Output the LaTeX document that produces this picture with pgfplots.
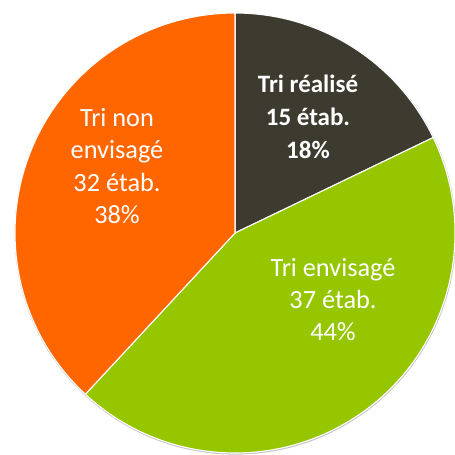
\documentclass[border=0pt]{standalone}
\usepackage{pgfplots}
\pgfplotsset{compat=1.18}
\usepackage{fontspec}
\setmainfont{Carlito}
\definecolor{cdark}{HTML}{3D3B30}
\definecolor{cgreen}{HTML}{95C600}
\definecolor{corange}{HTML}{FF6600}
\begin{document}
\begin{tikzpicture}
\begin{axis}[x=1pt,y=1pt,xmin=0,xmax=455,ymin=0,ymax=455,hide axis,clip=false,
  scale only axis]
% values: Tri realise 15, Tri envisage 37, Tri non envisage 32 (total 84)
\pgfmathsetmacro{\tot}{15+37+32}
\pgfmathsetmacro{\aA}{90}
\pgfmathsetmacro{\aB}{90-360*15/\tot}
\pgfmathsetmacro{\aC}{\aB-360*37/\tot}
\pgfmathsetmacro{\aD}{\aC-360*32/\tot}
\fill[gray!45] (axis cs:235.3,221.2) circle[radius=220.8pt];
\filldraw[fill=cdark,draw=white,line width=1.1pt] (axis cs:235,222) -- ++(\aA:220pt) arc[start angle=\aA,end angle=\aB,radius=220pt] -- cycle;
\filldraw[fill=cgreen,draw=white,line width=1.1pt] (axis cs:235,222) -- ++(\aB:220pt) arc[start angle=\aB,end angle=\aC,radius=220pt] -- cycle;
\filldraw[fill=corange,draw=white,line width=1.1pt] (axis cs:235,222) -- ++(\aC:220pt) arc[start angle=\aC,end angle=\aD,radius=220pt] -- cycle;
\node[white,align=center,font=\fontsize{25}{33}\selectfont\bfseries] at (axis cs:308,338) {Tri réalisé\\15 étab.\\18\%};
\node[white,align=center,font=\fontsize{26.3}{32.5}\selectfont] at (axis cs:117,289) {Tri non\\envisagé\\32 étab.\\38\%};
\node[white,align=center,font=\fontsize{26.3}{32}\selectfont] at (axis cs:333,155) {Tri envisagé\\37 étab.\\44\%};
\end{axis}
\pgfresetboundingbox
\useasboundingbox (current axis.south west) rectangle (current axis.north east);
\end{tikzpicture}
\end{document}
